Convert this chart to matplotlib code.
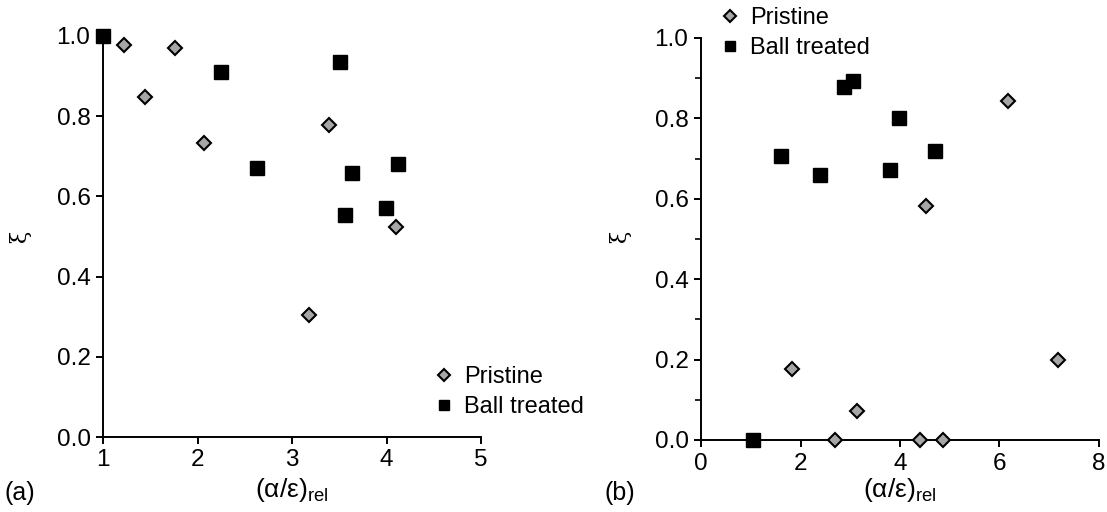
import matplotlib.pyplot as plt
from matplotlib.ticker import MultipleLocator

plt.rcParams['font.family'] = ['Liberation Sans', 'DejaVu Sans']

# panel (a)
a_pristine_x = [1.22, 1.44, 1.76, 2.07, 3.39, 3.18, 4.10]
a_pristine_y = [0.978, 0.849, 0.971, 0.733, 0.778, 0.305, 0.524]
a_ball_x = [1.00, 2.25, 2.63, 3.51, 3.64, 3.56, 3.99, 4.12]
a_ball_y = [1.000, 0.910, 0.672, 0.934, 0.658, 0.554, 0.571, 0.681]

# panel (b)
b_pristine_x = [1.82, 2.69, 3.13, 4.40, 4.86, 4.52, 6.18, 7.18]
b_pristine_y = [0.176, 0.0, 0.073, 0.0, 0.0, 0.583, 0.843, 0.198]
b_ball_x = [1.05, 1.60, 2.39, 2.87, 3.06, 3.97, 3.80, 4.70]
b_ball_y = [0.0, 0.707, 0.659, 0.879, 0.892, 0.801, 0.672, 0.719]

W, H = 1107, 512
fig = plt.figure(figsize=(W / 100, H / 100), dpi=100)

ax1 = fig.add_axes([103 / W, 1 - 437 / H, (481 - 103) / W, (437 - 36) / H])
ax2 = fig.add_axes([701 / W, 1 - 440 / H, (1099 - 701) / W, (440 - 38) / H])


def style(ax):
    for s in ['top', 'right']:
        ax.spines[s].set_visible(False)
    for s in ['left', 'bottom']:
        ax.spines[s].set_linewidth(1.4)
    ax.tick_params(which='major', direction='out', length=5, width=1.4,
                   labelsize=17.5, pad=4)
    ax.tick_params(which='minor', direction='out', length=4, width=1.2)
    ax.yaxis.set_major_locator(MultipleLocator(0.2))
    ax.yaxis.set_major_formatter(plt.FormatStrFormatter('%.1f'))
    ax.set_ylim(0, 1.0)


def draw(ax, px, py, bx, by):
    ax.plot(px, py, 'D', ms=7.5, mfc='#a6a6a6', mec='black', mew=1.5,
            clip_on=False, zorder=3, label='Pristine')
    ax.plot(bx, by, 's', ms=10, mfc='black', mec='black',
            clip_on=False, zorder=3, label='Ball treated')


style(ax1)
draw(ax1, a_pristine_x, a_pristine_y, a_ball_x, a_ball_y)
ax1.set_xlim(1, 5)
ax1.xaxis.set_major_locator(MultipleLocator(1))

style(ax2)
draw(ax2, b_pristine_x, b_pristine_y, b_ball_x, b_ball_y)
ax2.set_xlim(0, 8)
ax2.xaxis.set_major_locator(MultipleLocator(2))
ax2.yaxis.set_minor_locator(MultipleLocator(0.1))

for xc, xl in [(292, 20), (900, 620)]:
    fig.text(xl / W, 1 - 237 / H, 'ξ', rotation=90, fontsize=16,
             family='DejaVu Serif', ha='center', va='center')
    fig.text(xc / W, 1 - 490 / H, r'$\mathregular{(\alpha/\varepsilon)_{rel}}$',
             fontsize=19, ha='center', va='center')

fig.text(4 / W, 1 - 493 / H, '(a)', fontsize=18, va='center')
fig.text(605 / W, 1 - 493 / H, '(b)', fontsize=18, va='center')

leg_kw = dict(frameon=False, fontsize=17, handlelength=1.0, handletextpad=0.35,
              labelspacing=0.35, borderpad=0, borderaxespad=0, loc='center left',
              bbox_transform=fig.transFigure, numpoints=1, markerscale=0.75)
ax1.legend(bbox_to_anchor=(432 / W, 1 - 392 / H), **leg_kw)
ax2.legend(bbox_to_anchor=(718 / W, 1 - 33 / H), **leg_kw)

fig.savefig('out.png', dpi=100)
